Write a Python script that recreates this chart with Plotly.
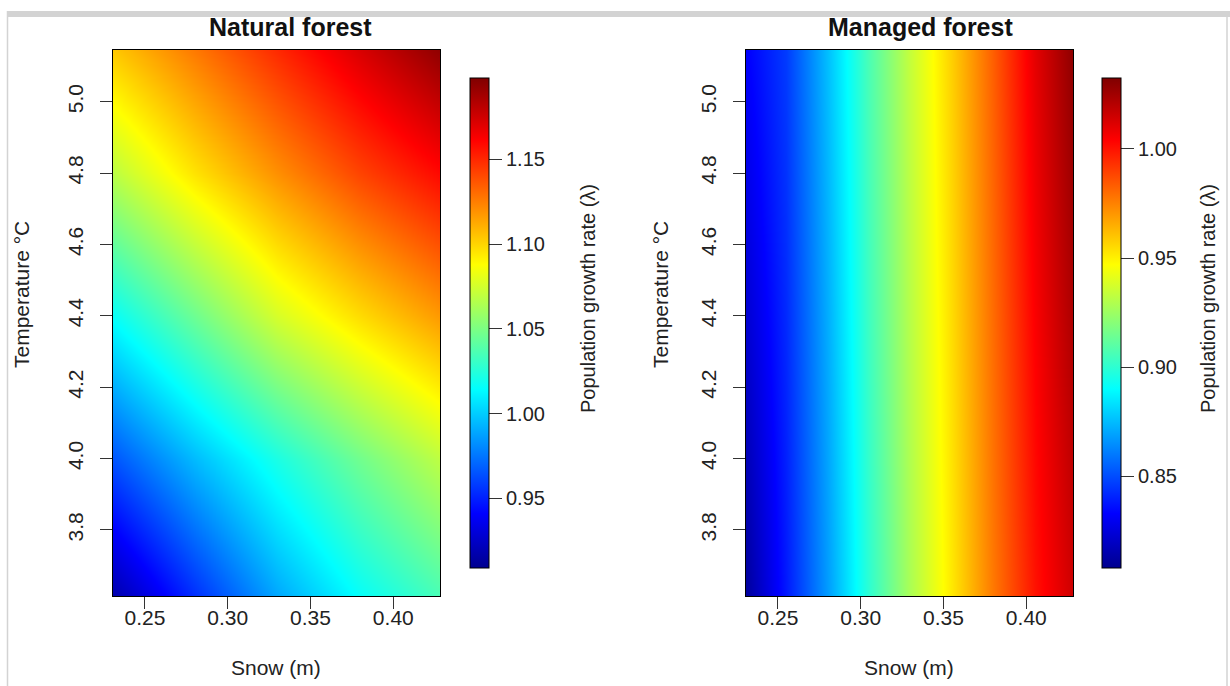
import plotly.graph_objects as go

# ---------------- data ----------------
snow_nat = [0.23, 0.28, 0.33, 0.38, 0.43]          # Snow (m)
temp_nat = [3.60, 4.00, 4.40, 4.80, 5.15]          # Temperature °C
lam_nat = [                                        # rows = temperature, cols = snow
    [0.915, 0.953, 0.988, 1.015, 1.035],
    [0.965, 0.995, 1.022, 1.047, 1.070],
    [1.016, 1.046, 1.076, 1.098, 1.118],
    [1.068, 1.096, 1.120, 1.142, 1.160],
    [1.104, 1.127, 1.150, 1.173, 1.195],
]

snow_man = [0.23, 0.255, 0.28, 0.305, 0.33, 0.355, 0.38, 0.405, 0.43]
temp_man = [3.60, 4.40, 5.15]
lam_man = [
    [0.810, 0.838, 0.868, 0.900, 0.928, 0.952, 0.977, 1.000, 1.016],
    [0.822, 0.842, 0.872, 0.904, 0.931, 0.955, 0.980, 1.005, 1.024],
    [0.832, 0.846, 0.876, 0.907, 0.934, 0.958, 0.983, 1.010, 1.031],
]

x_ticks = [0.25, 0.30, 0.35, 0.40]
y_ticks = [3.8, 4.0, 4.2, 4.4, 4.6, 4.8, 5.0]
cb_ticks_nat = [0.95, 1.00, 1.05, 1.10, 1.15]
cb_ticks_man = [0.85, 0.90, 0.95, 1.00]
range_nat = [0.909, 1.198]
range_man = [0.808, 1.0325]
x_range = [0.2307, 0.4282]
y_range = [3.615, 5.145]

titles = ["Natural forest", "Managed forest"]
x_title = "Snow (m)"
y_title = "Temperature °C"
cb_title = "Population growth rate (λ)"

# ---------------- styling ----------------
W, H = 1230, 686
FONT = "Liberation Sans, Arial, sans-serif"
jet = [[0.0, "#00008F"], [0.111, "#0000FF"], [0.365, "#00FFFF"],
       [0.619, "#FFFF00"], [0.873, "#FF0000"], [1.0, "#800000"]]


def px_x(p):
    return p / W


def px_y(p):
    return 1 - p / H


cb_common = dict(
    thickness=19, thicknessmode="pixels",
    len=490 / H, lenmode="fraction",
    y=px_y(323), yanchor="middle", ypad=0, xpad=0,
    xanchor="left",
    outlinecolor="black", outlinewidth=1,
    ticks="outside", ticklen=13, tickcolor="#333",
    tickprefix="\u00a0\u00a0",
    tickfont=dict(family=FONT, size=20, color="#222"),
    tickformat=".2f",
)

fig = go.Figure()
fig.add_trace(go.Heatmap(
    x=snow_nat, y=temp_nat, z=lam_nat,
    zmin=range_nat[0], zmax=range_nat[1], colorscale=jet, zsmooth="best",
    xaxis="x", yaxis="y",
    colorbar=dict(x=px_x(470), tickvals=cb_ticks_nat, **cb_common),
))
fig.add_trace(go.Heatmap(
    x=snow_man, y=temp_man, z=lam_man,
    zmin=range_man[0], zmax=range_man[1], colorscale=jet, zsmooth="best",
    xaxis="x2", yaxis="y2",
    colorbar=dict(x=px_x(1102), tickvals=cb_ticks_man, **cb_common),
))

ax_common = dict(
    showline=True, linecolor="black", linewidth=1, mirror=True,
    ticks="outside", ticklen=12, tickcolor="#333",
    showgrid=False, zeroline=False,
    tickfont=dict(family=FONT, size=21, color="#222"),
)
xax = dict(tickvals=x_ticks, tickformat=".2f", range=x_range, ticklabelstandoff=-9, **ax_common)
yax = dict(tickvals=y_ticks, tickformat=".1f", range=y_range, tickangle=-90,
           ticklabelstandoff=9, **ax_common)
ydom = [px_y(596), px_y(50)]
fig.update_layout(
    width=W, height=H,
    margin=dict(l=0, r=0, t=0, b=0),
    paper_bgcolor="white", plot_bgcolor="white",
    showlegend=False,
    xaxis=dict(domain=[px_x(113), px_x(440)], anchor="y", **xax),
    yaxis=dict(domain=ydom, anchor="x", **yax),
    xaxis2=dict(domain=[px_x(746), px_x(1073)], anchor="y2", **xax),
    yaxis2=dict(domain=ydom, anchor="x2", **yax),
)

ann = []
for title, cx in zip(titles, [290, 920]):
    ann.append(dict(text=f"<b>{title}</b>", x=px_x(cx), y=px_y(27),
                    xref="paper", yref="paper", showarrow=False,
                    xanchor="center", yanchor="middle",
                    font=dict(family=FONT, size=25, color="#111")))
for cx in [276, 909]:
    ann.append(dict(text=x_title, x=px_x(cx), y=px_y(667), xref="paper", yref="paper",
                    showarrow=False, xanchor="center", yanchor="middle",
                    font=dict(family=FONT, size=21, color="#222")))
for cx in [21, 660]:
    ann.append(dict(text=y_title, x=px_x(cx), y=px_y(295), xref="paper", yref="paper",
                    showarrow=False, xanchor="center", yanchor="middle", textangle=-90,
                    font=dict(family=FONT, size=21, color="#222")))
for cx in [588, 1208]:
    ann.append(dict(text=cb_title, x=px_x(cx), y=px_y(299), xref="paper", yref="paper",
                    showarrow=False, xanchor="center", yanchor="middle", textangle=-90,
                    font=dict(family=FONT, size=20, color="#222")))
fig.update_layout(annotations=ann)

# light grey page frame seen in the screenshot
frame = [
    dict(type="rect", xref="paper", yref="paper", x0=px_x(7), x1=1, y0=px_y(17), y1=px_y(11),
         fillcolor="#D3D3D3", line=dict(width=0), layer="below"),
    dict(type="line", xref="paper", yref="paper", x0=px_x(7.5), x1=px_x(7.5), y0=0, y1=px_y(11),
         line=dict(color="#D3D3D3", width=1.5)),
    dict(type="line", xref="paper", yref="paper", x0=px_x(1227), x1=px_x(1227), y0=0, y1=px_y(11),
         line=dict(color="#D3D3D3", width=1.5)),
]
fig.update_layout(shapes=frame)

fig.write_html("out.html", config={"displayModeBar": False},
               post_script="document.body.style.margin='0px';document.body.style.overflow='hidden';")
